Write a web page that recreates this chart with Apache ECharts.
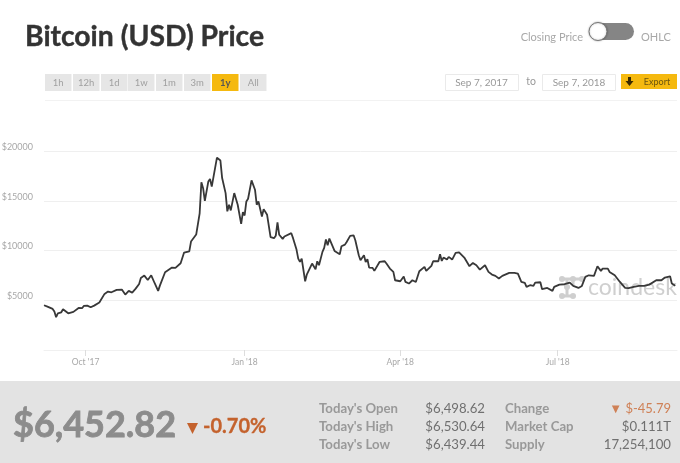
<!DOCTYPE html>
<html>
<head>
<meta charset="utf-8">
<style>html,body{margin:0;padding:0;background:#fff}#main{width:680px;height:463px}</style>
<script src="https://cdn.jsdelivr.net/npm/echarts@6/dist/echarts.min.js"></script>
</head>
<body>
<div id="main"></div>
<script>
// days since Sep 7 2017
var dayOffsets = [
  0,2,3,5,6,7,8,10,11,12,14,15,17,18,20,22,23,25,27,29,32,33,35,37,39,40,42,45,47,49,51,53,55,56,58,60,62,64,66,67,68,70,71,74,76,77,79,81,82,84,85,86,88,89,
  90,91,92,93,94,95,96,97,98,100,101,102,103,105,106,107,108,110,111,112,113,114,115,116,117,118,120,121,122,123,124,125,126,127,129,130,131,133,134,135,136,138,139,140,143,144,
  146,147,148,149,151,152,153,155,157,158,159,161,162,163,164,165,166,168,169,171,172,174,175,177,179,180,182,183,185,186,187,188,190,191,194,197,198,200,202,203,206,208,209,211,213,215,216,217,220,221,224,225,228,229,230,231,233,234,236,238,240,
  241,243,244,246,248,250,252,255,257,259,261,263,265,266,269,270,272,274,276,278,279,281,283,284,287,288,291,294,295,298,301,304,306,309,311,313,315,318,320,322,323,326,327,330,333,336,338,341,344,347,350,354,357,359,362,363,365
];
var closingPrices = [
  4500,4360,4260,4130,3860,3290,3690,3790,4100,4000,3690,3760,3830,4030,4230,4200,4430,4460,4300,4460,4770,4870,5640,5870,5800,5640,6040,6070,5570,5940,5770,6170,6640,7240,7480,7040,7510,6710,5940,6470,6640,7810,7780,8280,8250,8050,8720,9790,9960,9920,10900,11000,11600,11800,
  13740,16860,16260,14980,15020,16930,17190,16420,16490,19340,19170,19040,17280,15770,13930,14600,14030,15770,15600,14600,14430,12680,13860,13520,14930,15200,17050,17180,16110,14600,14930,14830,13420,14160,13590,13590,11340,11240,11480,12820,11580,11170,11410,11240,11740,11240,
  10090,9190,8850,9190,6910,7610,7750,8690,8120,8920,8520,9860,10260,11100,10530,11200,11260,9960,10130,9620,10430,10590,10860,11470,11530,11030,9520,9020,9520,8850,9120,8280,8250,7950,8850,8920,8690,8180,7850,7010,6910,7380,6840,6680,7010,6840,6940,7910,8350,7950,8450,8920,8920,9620,8950,9290,9090,9360,9090,9760,9820,
  9620,9290,9250,8420,8750,8520,8080,8520,7850,7580,7450,7180,7450,7510,7750,7610,7750,7680,6840,6740,6340,6510,6440,6780,6810,6110,6240,5940,6340,6570,6610,6780,6440,6240,6440,7350,7510,7450,8420,7950,8180,8180,7850,7510,6840,6240,6210,6340,6440,6440,6570,7010,7010,7280,7410,6680,6452.82
];

var xTickDays = [24, 116, 206, 297];
var xTickLabels = ["Oct '17", "Jan '18", "Apr '18", "Jul '18"];
var yTicks = [0, 5000, 10000, 15000, 20000];

var rangeLabels = ['1h', '12h', '1d', '1w', '1m', '3m', '1y', 'All'];
var rangeLefts = [45, 73, 101, 128, 156, 184, 212, 240];
var statLabels = ["Today's Open", "Today's High", "Today's Low"];
var statValues = ['$6,498.62', '$6,530.64', '$6,439.44'];
var infoLabels = ['Change', 'Market Cap', 'Supply'];
var infoValues = ['$0.111T', '17,254,100'];

var FONT = 'Lato, sans-serif';
var YELLOW = '#f5b90f';
var ORANGE = '#c4622d';

var seriesData = dayOffsets.map(function (d, i) {
  return [d, closingPrices[i]];
});

function txt(x, y, text, size, color, align, weight, thicken) {
  return {
    type: 'text', x: x, y: y, silent: true, z: 10,
    style: {
      text: text, fontFamily: FONT, fontSize: size, fill: color,
      align: align || 'left', verticalAlign: 'middle', fontWeight: weight || 'normal',
      stroke: thicken ? color : null, lineWidth: thicken || 0
    }
  };
}
function box(x, y, w, h, fill, stroke) {
  return {
    type: 'rect', x: x, y: y, silent: true, z: 5,
    shape: { width: w, height: h },
    style: { fill: fill, stroke: stroke || null, lineWidth: 1 }
  };
}
function tri(pts, fill) {
  return { type: 'polygon', silent: true, z: 10, shape: { points: pts }, style: { fill: fill } };
}

var els = [];

// header controls
els.push(txt(25, 37, 'Bitcoin (USD) Price', 28.3, '#333', 'left', 'bold', 0.4));
els.push(txt(583, 37, 'Closing Price', 11, '#a8a8a8', 'right'));
els.push(txt(641, 37, 'OHLC', 11, '#a8a8a8'));
els.push({ type: 'rect', x: 590, y: 23, silent: true, z: 5, shape: { width: 44, height: 17, r: 8.5 }, style: { fill: '#858585' } });
els.push({ type: 'circle', silent: true, z: 6, shape: { cx: 598, cy: 31.5, r: 9 }, style: { fill: '#fff', stroke: '#777', lineWidth: 1, shadowBlur: 2, shadowColor: 'rgba(0,0,0,.3)' } });

rangeLabels.forEach(function (label, i) {
  var on = label === '1y';
  els.push(box(rangeLefts[i], 74, 26.5, 17, on ? YELLOW : '#e6e6e6'));
  els.push(txt(rangeLefts[i] + 13.2, 82.5, label, 9.5, on ? '#555' : '#a0a0a0', 'center', on ? 'bold' : 'normal'));
});

els.push(box(445.5, 74.5, 73, 16, '#fff', '#eaeaea'));
els.push(box(542.5, 74.5, 73, 16, '#fff', '#eaeaea'));
els.push(txt(481.5, 82.5, 'Sep 7, 2017', 10, '#999', 'center'));
els.push(txt(531, 82, 'to', 10.5, '#999', 'center'));
els.push(txt(579, 82.5, 'Sep 7, 2018', 10, '#999', 'center'));
els.push(box(621, 74, 56, 15, YELLOW));
els.push({ type: 'rect', x: 628, y: 77, silent: true, z: 10, shape: { width: 3, height: 5 }, style: { fill: '#3a2a00' } });
els.push(tri([[625.5, 81], [633.5, 81], [629.5, 86]], '#3a2a00'));
els.push(txt(657, 82, 'Export', 9, '#6b5510', 'center'));
els.push({ type: 'line', silent: true, z: 1, shape: { x1: 45, y1: 100.5, x2: 677, y2: 100.5 }, style: { stroke: '#f2f2f2', lineWidth: 1 } });

// watermark sits under the line
var WM = '#cfcfcf';
[[562, 279, 582, 279], [567, 279, 567, 296], [562, 296, 573, 296], [573, 279, 573, 285]].forEach(function (s) {
  els.push({ type: 'line', silent: true, z: -1, shape: { x1: s[0], y1: s[1], x2: s[2], y2: s[3] }, style: { stroke: WM, lineWidth: 3 } });
});
[[562, 279], [573, 279], [582, 279], [567, 287], [562, 296], [573, 296]].forEach(function (c) {
  els.push({ type: 'circle', silent: true, z: -1, shape: { cx: c[0], cy: c[1], r: 3 }, style: { fill: WM } });
});
els.push({
  type: 'text', x: 588, y: 288, silent: true, z: -1,
  style: { text: 'coindesk', fontFamily: FONT, fontSize: 23, fill: WM, verticalAlign: 'middle' }
});

// bottom band
els.push(box(0, 381, 680, 82, '#e3e3e3'));
els.push(txt(13, 425, '$6,452.82', 36, '#8c8c8c', 'left', 'bold', 0.8));
els.push(tri([[187, 423], [198, 423], [192.5, 434]], ORANGE));
els.push(txt(203, 427, '-0.70%', 20, ORANGE, 'left', 'bold', 0.3));

var rowY = [408.5, 426.5, 444.5];
statLabels.forEach(function (s, i) {
  els.push(txt(319, rowY[i], s, 13.2, '#999', 'left', 'bold'));
  els.push(txt(485, rowY[i], statValues[i], 13.2, '#707070', 'right'));
  els.push(txt(505, rowY[i], infoLabels[i], 13.2, '#999', 'left', 'bold'));
});
els.push(txt(671, rowY[0], '▼ $-45.79', 13, '#cf8157', 'right'));
els.push(txt(671, rowY[1], infoValues[0], 13.2, '#707070', 'right'));
els.push(txt(671, rowY[2], infoValues[1], 13.2, '#707070', 'right'));

var myChart = echarts.init(document.getElementById('main'));
var option = {
  animation: false,
  backgroundColor: '#fff',
  grid: { left: 44, top: 151, width: 633, height: 199, outerBoundsMode: 'none' },
  xAxis: {
    type: 'value',
    min: 0,
    max: 366,
    splitLine: { show: false },
    axisLine: { lineStyle: { color: '#f0f0f0' } },
    axisTick: { customValues: xTickDays, length: 6, lineStyle: { color: '#ddd' } },
    axisLabel: {
      customValues: xTickDays,
      fontFamily: FONT, fontSize: 8.5, color: '#a8a8a8', margin: 8,
      formatter: function (v) { return xTickLabels[xTickDays.indexOf(v)]; }
    }
  },
  yAxis: {
    type: 'value',
    min: yTicks[0],
    max: yTicks[yTicks.length - 1],
    interval: 5000,
    axisLine: { show: false },
    axisTick: { show: false },
    splitLine: { lineStyle: { color: '#efefef' } },
    axisLabel: {
      fontFamily: FONT, fontSize: 9, color: '#a8a8a8', margin: 11, verticalAlign: 'bottom', lineHeight: 8,
      formatter: function (v) { return v === 0 ? '' : '$' + v; }
    }
  },
  series: [{
    type: 'line',
    data: seriesData,
    showSymbol: false,
    lineStyle: { color: '#383838', width: 1.8 }
  }],
  graphic: { elements: els }
};
myChart.setOption(option);
</script>
</body>
</html>
